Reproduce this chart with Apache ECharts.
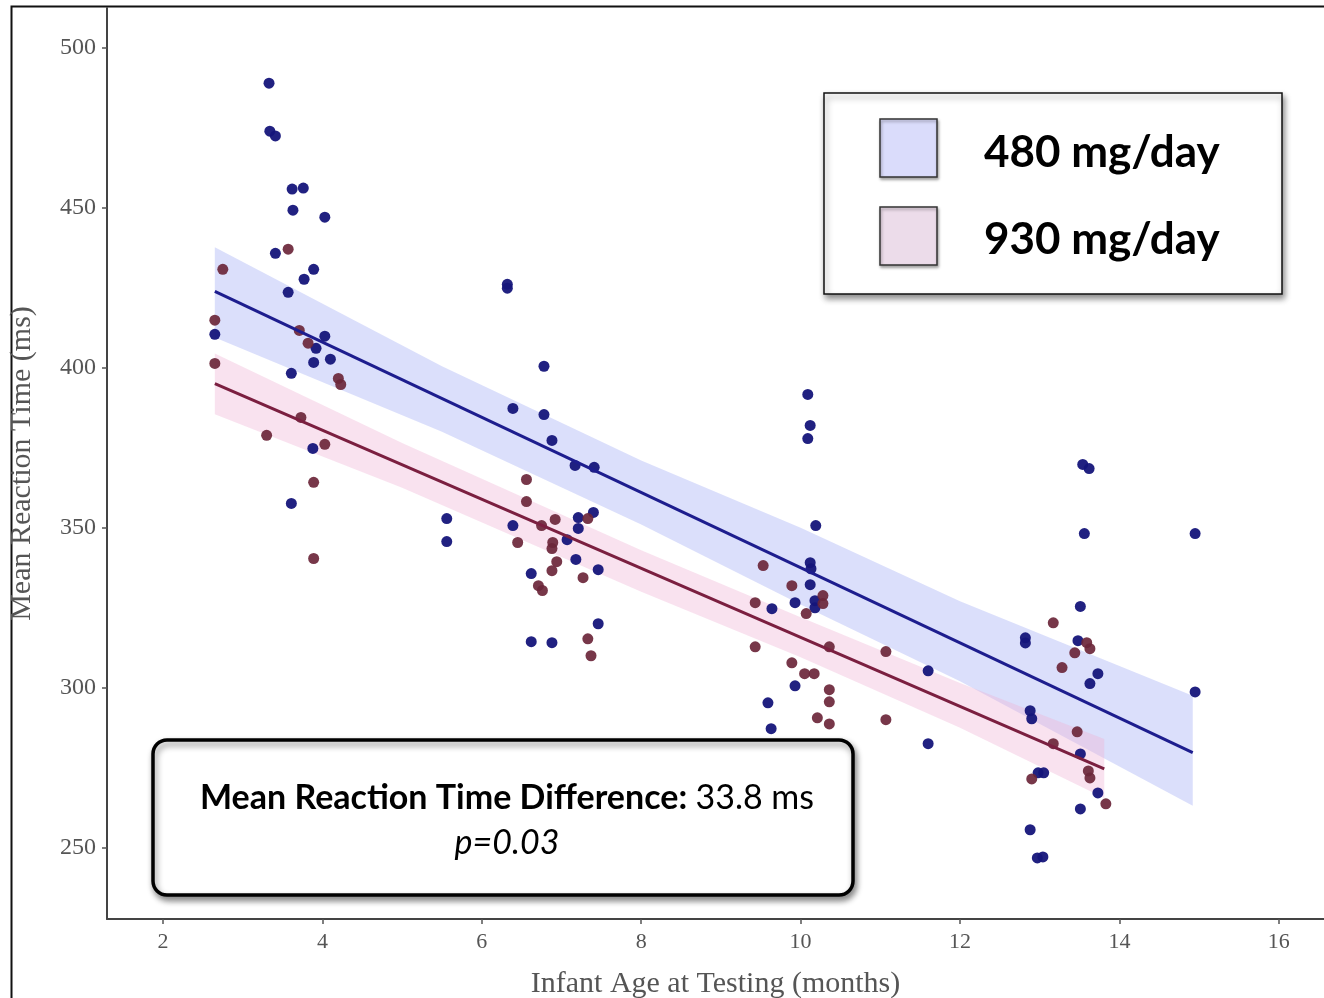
<!DOCTYPE html>
<html>
<head>
<meta charset="utf-8">
<script src="https://cdn.jsdelivr.net/npm/echarts@6/dist/echarts.min.js"></script>
<style>
html,body{margin:0;padding:0;background:#fff;}
#chart{width:1324px;height:998px;}
</style>
</head>
<body>
<div id="chart"></div>
<script>
// ---- data ----
const xTicks = [2, 4, 6, 8, 10, 12, 14, 16];
const yTicks = [250, 300, 350, 400, 450, 500];

const legendLabels = ['480 mg/day', '930 mg/day'];

// 480 mg/day points (age in months, mean RT in ms)
const blueAge = [3.33,3.34,3.41,3.62,3.76,3.63,4.03,3.41,3.89,3.77,3.57,
  2.65,4.03,3.92,3.89,4.10,3.61,3.88,3.61,
  5.56,5.56,
  6.32,6.32,6.78,6.39,6.78,6.88,7.17,7.41,
  6.39,7.21,7.40,7.21,7.07,7.18,7.46,6.62,7.46,6.62,6.88,
  10.09,10.12,10.09,10.19,10.12,10.13,10.12,9.64,9.93,10.18,10.18,11.6,9.93,9.59,9.63,11.6,
  13.56,14.95,13.54,13.62,13.51,12.82,12.82,13.48,13.73,13.63,12.88,12.90,13.51,12.98,13.05,13.73,13.51,12.88,12.97,13.04,14.95];
const blueRT = [489.0,474.0,472.5,455.9,456.2,449.3,447.1,435.8,430.8,427.7,423.6,
  410.5,409.9,406.1,401.7,402.7,398.3,374.8,357.6,
  352.9,345.7,
  426.1,424.9,400.5,387.3,385.4,377.3,369.5,368.9,
  350.7,353.2,354.8,349.8,346.3,340.1,336.9,335.7,320.0,314.4,314.1,
  391.7,382.0,377.9,350.7,339.1,337.2,332.2,324.7,326.6,327.2,325.0,305.3,300.6,295.3,287.2,282.5,
  348.2,348.2,369.8,368.5,325.4,315.6,314.0,314.7,304.4,301.3,292.8,290.3,279.3,273.4,273.4,267.1,262.1,255.6,246.8,247.1,298.7];

// 930 mg/day points
const redAge = [3.57,2.75,2.65,2.65,3.71,3.82,4.20,4.23,3.73,3.30,4.03,3.89,3.89,
  6.56,6.56,6.45,6.92,6.75,7.33,6.89,6.88,6.94,6.88,7.27,6.71,6.76,7.33,7.37,
  9.53,9.89,9.43,10.28,10.28,10.07,9.43,10.36,11.07,9.89,10.05,10.17,10.36,10.36,11.07,10.21,10.36,
  13.17,13.59,13.63,13.44,13.28,13.47,13.17,13.61,13.63,12.90,13.83];
const redRT = [437.1,430.8,414.9,401.4,411.7,407.7,396.7,394.8,384.5,378.9,376.1,364.2,340.4,
  365.1,358.2,345.4,352.6,350.7,352.9,345.4,343.5,339.4,336.6,334.4,331.9,330.4,315.3,310.0,
  338.2,331.9,326.6,328.8,326.3,323.2,312.8,312.8,311.3,307.8,304.4,304.4,299.4,295.6,290.0,290.6,288.7,
  320.3,314.1,312.2,310.9,306.3,286.2,282.5,274.0,271.8,271.5,263.7];

// fitted lines (end points)
const blueFitAge = [2.65, 14.92];
const blueFitRT = [423.9, 279.7];
const redFitAge = [2.65, 13.81];
const redFitRT = [395.1, 274.6];

// confidence bands
const blueBandAge = [2.65, 5.5, 8.0, 10.0, 12.0, 14.92];
const blueBandLow = [409.5, 380.0, 351.0, 326.0, 302.0, 263.1];
const blueBandHigh = [437.7, 400.5, 371.0, 350.0, 327.0, 297.5];
const redBandAge = [2.65, 5.0, 8.0, 10.0, 12.0, 13.81];
const redBandLow = [385.5, 362.5, 330.0, 309.5, 287.5, 265.5];
const redBandHigh = [404.5, 376.5, 343.0, 322.0, 301.5, 284.0];

// ---- build ----
const zip = (a, b) => a.map((v, i) => [v, b[i]]);
const bandRows = (xs, lo, hi) => xs.map((v, i) => [v, lo[i], hi[i]]);

function bandSeries(rows, color) {
  return {
    type: 'custom',
    data: rows,
    encode: { x: 0, y: [1, 2] },
    z: 1,
    silent: true,
    renderItem: function (params, api) {
      if (params.dataIndex !== 0) return null;
      const top = rows.map(r => api.coord([r[0], r[2]]));
      const bot = rows.map(r => api.coord([r[0], r[1]])).reverse();
      return {
        type: 'polygon',
        shape: { points: top.concat(bot) },
        style: { fill: color, stroke: 'none' }
      };
    }
  };
}

const serif = '"Liberation Serif", "DejaVu Serif", serif';
const sans = 'Lato, "Open Sans", sans-serif';

const chart = echarts.init(document.getElementById('chart'), null, { renderer: 'canvas' });

const option = {
  backgroundColor: '#ffffff',
  animation: false,
  grid: { left: 107, top: 8, right: 0, bottom: 79, containLabel: false, outerBoundsMode: 'none' },
  xAxis: {
    type: 'value',
    min: 1.297,
    max: 16.567,
    name: 'Infant Age at Testing (months)',
    nameLocation: 'middle',
    nameGap: 50,
    nameTextStyle: { fontFamily: serif, fontSize: 30, color: '#555' },
    axisLine: { show: true, lineStyle: { color: '#444', width: 2 } },
    axisTick: { show: true, length: 5, customValues: xTicks, lineStyle: { color: '#555', width: 1.5 } },
    axisLabel: { customValues: xTicks, margin: 12, fontFamily: serif, fontSize: 22, color: '#555' },
    splitLine: { show: false }
  },
  yAxis: {
    type: 'value',
    min: 227.7,
    max: 512.5,
    name: 'Mean Reaction Time (ms)',
    nameLocation: 'middle',
    nameGap: 70,
    nameTextStyle: { fontFamily: serif, fontSize: 30, color: '#555' },
    axisLine: { show: true, lineStyle: { color: '#444', width: 2 } },
    axisTick: { show: true, length: 5, customValues: yTicks, lineStyle: { color: '#555', width: 1.5 } },
    axisLabel: { customValues: yTicks, margin: 11, fontFamily: serif, fontSize: 24, color: '#555' },
    splitLine: { show: false }
  },
  series: [
    bandSeries(bandRows(blueBandAge, blueBandLow, blueBandHigh), 'rgba(190,196,248,0.55)'),
    bandSeries(bandRows(redBandAge, redBandLow, redBandHigh), 'rgba(238,180,212,0.38)'),
    {
      name: legendLabels[0], type: 'scatter', data: zip(blueAge, blueRT), z: 3,
      symbolSize: 11, itemStyle: { color: '#15157a', opacity: 0.95 }
    },
    {
      name: legendLabels[1], type: 'scatter', data: zip(redAge, redRT), z: 3,
      symbolSize: 11, itemStyle: { color: '#6b2639', opacity: 0.92 }
    },
    {
      type: 'line', data: zip(blueFitAge, blueFitRT), z: 4, showSymbol: false, symbol: 'none',
      lineStyle: { color: '#1d1d8e', width: 3 }
    },
    {
      type: 'line', data: zip(redFitAge, redFitRT), z: 4, showSymbol: false, symbol: 'none',
      lineStyle: { color: '#7b1f40', width: 3 }
    }
  ],
  graphic: [
    {
      type: 'rect', left: 9, top: 4, z: 0, silent: true,
      shape: { width: 1400, height: 1100 },
      style: { fill: 'none', stroke: '#111', lineWidth: 2 }
    },
    {
      type: 'group', z: 10,
      children: [
        {
          type: 'rect', x: 824, y: 93,
          shape: { width: 458, height: 201 },
          style: { fill: '#fff', stroke: '#111', lineWidth: 1.5,
            shadowBlur: 6, shadowOffsetX: 2, shadowOffsetY: 4, shadowColor: 'rgba(0,0,0,0.45)' }
        },
        {
          type: 'rect', x: 880, y: 119,
          shape: { width: 57, height: 58 },
          style: { fill: '#dadcfb', stroke: '#333', lineWidth: 1.5,
            shadowBlur: 3, shadowOffsetX: 1, shadowOffsetY: 2, shadowColor: 'rgba(0,0,0,0.35)' }
        },
        {
          type: 'rect', x: 880, y: 207,
          shape: { width: 57, height: 58 },
          style: { fill: '#ecdcea', stroke: '#333', lineWidth: 1.5,
            shadowBlur: 3, shadowOffsetX: 1, shadowOffsetY: 2, shadowColor: 'rgba(0,0,0,0.35)' }
        },
        {
          type: 'text', x: 984, y: 153,
          style: { text: legendLabels[0], fontFamily: sans, fontWeight: 'bold', fontSize: 44,
            fill: '#000', align: 'left', verticalAlign: 'middle' }
        },
        {
          type: 'text', x: 984, y: 240,
          style: { text: legendLabels[1], fontFamily: sans, fontWeight: 'bold', fontSize: 44,
            fill: '#000', align: 'left', verticalAlign: 'middle' }
        }
      ]
    },
    {
      type: 'group', z: 10,
      children: [
        {
          type: 'rect', x: 153, y: 740,
          shape: { width: 700, height: 155, r: 14 },
          style: { fill: '#fff', stroke: '#000', lineWidth: 3.5,
            shadowBlur: 6, shadowOffsetX: 2, shadowOffsetY: 4, shadowColor: 'rgba(0,0,0,0.45)' }
        },
        {
          type: 'text', x: 507, y: 821,
          style: {
            text: '{b|Mean Reaction Time Difference: }{r|33.8 ms}\n{i|p=0.03}',
            align: 'center', verticalAlign: 'middle',
            rich: {
              b: { fontFamily: sans, fontWeight: 'bold', fontSize: 34, lineHeight: 45, fill: '#000', color: '#000' },
              r: { fontFamily: sans, fontSize: 34, lineHeight: 45, fill: '#000', color: '#000' },
              i: { fontFamily: sans, fontStyle: 'italic', fontSize: 34, lineHeight: 45, fill: '#000', color: '#000' }
            }
          }
        }
      ]
    }
  ]
};

chart.setOption(option);
</script>
</body>
</html>
